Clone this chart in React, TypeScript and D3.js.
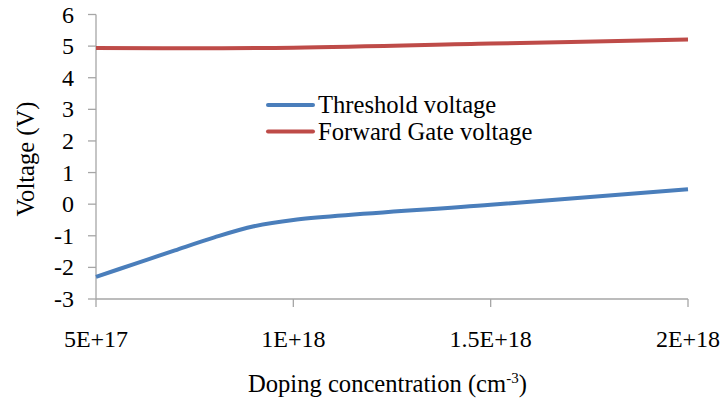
import * as d3 from "d3";

// doping concentration (cm^-3)
const doping = [5e17, 6e17, 7e17, 8e17, 9e17, 1e18, 1.5e18, 2e18];
const thresholdVoltage = [-2.3, -1.88, -1.46, -1.05, -0.7, -0.5, -0.02, 0.47];
const gateDoping = [5e17, 1e18, 1.5e18, 2e18];
const forwardGateVoltage = [4.94, 4.95, 5.08, 5.21];

const xTicks = [5e17, 1e18, 1.5e18, 2e18];
const xTickLabels = ["5E+17", "1E+18", "1.5E+18", "2E+18"];
const yTicks = [-3, -2, -1, 0, 1, 2, 3, 4, 5, 6];

const seriesNames = ["Threshold voltage", "Forward Gate voltage"];
const colors = ["#4a7ebb", "#be4b48"];

const font = "Liberation Serif";
const axisColor = "#a6a6a6";

export default function App() {
    const width = 723;
    const height = 403;

    const x = d3.scaleLinear([5e17, 2e18], [96, 688]);
    const y = d3.scaleLinear([-3, 6], [299, 14.5]);

    const line = d3
        .line<[number, number]>()
        .x((d) => x(d[0]))
        .y((d) => y(d[1]))
        .curve(d3.curveCatmullRom.alpha(0.5));

    const series = [
        doping.map((d, i) => [d, thresholdVoltage[i]] as [number, number]),
        gateDoping.map((d, i) => [d, forwardGateVoltage[i]] as [number, number]),
    ];

    const textStyle = { fontFamily: font, fontSize: "24px" };
    const bigText = { fontFamily: font, fontSize: "24.6px" };

    return (
        <svg
            width={width}
            height={height}
            style={{ position: "absolute", left: 0, top: 0, background: "#fff" }}
        >
            {/* axes */}
            <line x1={x(5e17)} x2={x(5e17)} y1={y(6)} y2={y(-3)} stroke={axisColor} strokeWidth={1.3} />
            <line x1={x(5e17)} x2={x(2e18)} y1={y(-3)} y2={y(-3)} stroke={axisColor} strokeWidth={1.3} />

            {yTicks.map((t) => (
                <g key={"y" + t}>
                    <line x1={x(5e17) - 8} x2={x(5e17)} y1={y(t)} y2={y(t)} stroke={axisColor} strokeWidth={1.3} />
                    <text x={74} y={y(t) + 8} textAnchor="end" style={textStyle}>
                        {t < 0 ? "-" + Math.abs(t) : String(t)}
                    </text>
                </g>
            ))}

            {xTicks.map((t, i) => (
                <g key={"x" + i}>
                    <line x1={x(t)} x2={x(t)} y1={y(-3)} y2={y(-3) + 8} stroke={axisColor} strokeWidth={1.3} />
                    <text x={x(t)} y={346.5} textAnchor="middle" style={textStyle}>
                        {xTickLabels[i]}
                    </text>
                </g>
            ))}

            {/* series */}
            {series.map((s, i) => (
                <path key={"s" + i} d={line(s) ?? ""} fill="none" stroke={colors[i]} strokeWidth={4} />
            ))}

            {/* legend */}
            {seriesNames.map((name, i) => (
                <g key={name} transform={`translate(268, ${105 + i * 26.5})`}>
                    <line x1={0} x2={45} stroke={colors[i]} strokeWidth={4} strokeLinecap="round" />
                    <text x={50} y={8} style={bigText}>
                        {name}
                    </text>
                </g>
            ))}

            {/* axis titles */}
            <text transform="translate(34, 159) rotate(-90)" textAnchor="middle" style={bigText}>
                Voltage (V)
            </text>
            <text x={248} y={392} textAnchor="start" style={bigText}>
                <tspan>Doping concentration (cm</tspan>
                <tspan dy={-9} style={{ fontSize: "15px" }}>-3</tspan>
                <tspan dy={9}>)</tspan>
            </text>
        </svg>
    );
}
